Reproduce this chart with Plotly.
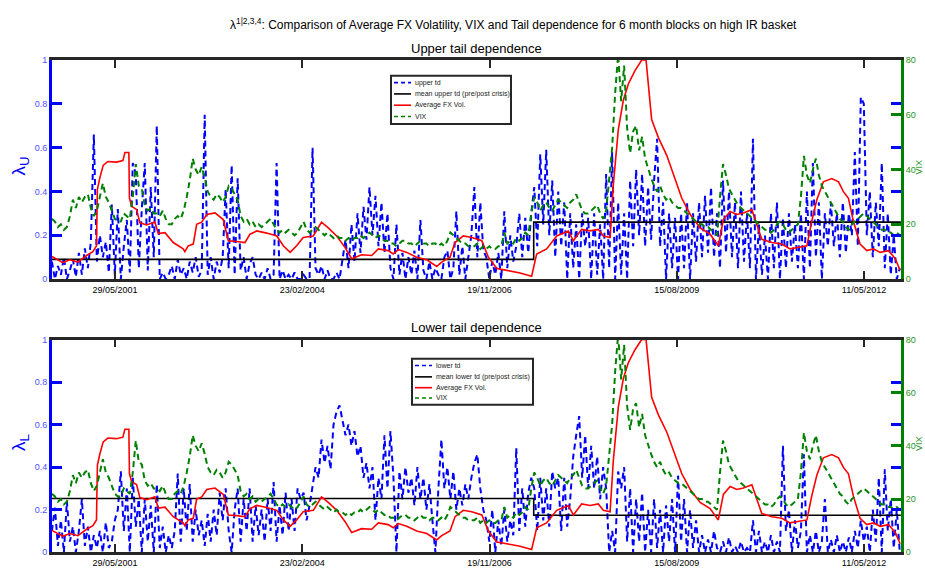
import pandas as pd
import plotly.graph_objects as go

W, H = 925, 571

# 16-day sampling grid shared by the VIX and tail-dependence series
dates = pd.date_range("2000-06-26", periods=284, freq="16D")

vix = [
    22, 21, 19, 20, 18, 19, 23, 29, 26, 30,
    28, 30, 31, 26, 23, 25, 30, 35, 30, 28,
    25, 22, 21, 21, 24, 23, 22, 30, 42, 34,
    33, 27, 25, 26, 24, 24, 23, 25, 22, 20,
    20, 22, 23, 22, 25, 30, 36, 44, 40, 38,
    41, 37, 32, 30, 29, 31, 30, 28, 30, 34,
    33, 31, 29, 23, 21, 22, 20, 21, 19, 20,
    19, 20, 21, 22, 20, 18, 17, 18, 17, 18,
    17, 16, 17, 19, 21, 18, 17, 18, 19, 18,
    17, 16, 17, 16, 15, 16, 15, 15, 14, 15,
    14, 15, 15, 16, 15, 16, 17, 16, 15, 16,
    15, 14, 14, 13, 13, 12, 13, 14, 14, 13,
    13, 12, 13, 14, 13, 13, 12, 13, 13, 12,
    13, 12, 14, 17, 16, 15, 14, 13, 13, 12,
    12, 12, 13, 11, 12, 11, 12, 11, 11, 12,
    12, 17, 13, 14, 13, 15, 14, 15, 17, 16,
    24, 30, 28, 25, 27, 28, 26, 25, 27, 29,
    28, 27, 26, 28, 29, 31, 28, 25, 24, 24,
    25, 26, 27, 24, 22, 25, 36, 48, 68, 82,
    65, 78, 55, 46, 54, 56, 47, 52, 44, 40,
    37, 34, 32, 34, 31, 29, 30, 28, 27, 26,
    26, 25, 24, 23, 22, 21, 20, 20, 19, 19,
    18, 17, 16, 30, 42, 38, 33, 31, 29, 27,
    26, 25, 24, 23, 22, 21, 20, 19, 18, 18,
    17, 18, 20, 21, 20, 18, 17, 18, 19, 20,
    30, 45, 38, 35, 40, 44, 38, 34, 32, 30,
    28, 26, 24, 22, 21, 19, 18, 20, 21, 22,
    23, 24, 23, 22, 21, 20, 19, 18, 18, 17,
    17, 16, 17, 16,
]

upper_td = [
    0.08, 0.00, 0.06, 0.02, 0.10, 0.00, 0.04, 0.09, 0.01, 0.12,
    0.02, 0.14, 0.05, 0.17, 0.66, 0.08, 0.20, 0.10, 0.17, 0.03,
    0.34, 0.02, 0.32, 0.00, 0.15, 0.27, 0.03, 0.53, 0.48, 0.05,
    0.32, 0.53, 0.04, 0.42, 0.10, 0.70, 0.00, 0.03, 0.00, 0.02,
    0.06, 0.00, 0.09, 0.02, 0.05, 0.00, 0.08, 0.03, 0.10, 0.01,
    0.04, 0.75, 0.02, 0.10, 0.00, 0.08, 0.03, 0.10, 0.41, 0.05,
    0.52, 0.02, 0.46, 0.04, 0.10, 0.00, 0.07, 0.10, 0.02, 0.00,
    0.03, 0.00, 0.05, 0.00, 0.02, 0.53, 0.00, 0.04, 0.00, 0.02,
    0.00, 0.03, 0.00, 0.00, 0.02, 0.00, 0.00, 0.60, 0.05, 0.02,
    0.06, 0.00, 0.04, 0.00, 0.00, 0.03, 0.00, 0.10, 0.18, 0.05,
    0.25, 0.08, 0.30, 0.12, 0.33, 0.18, 0.42, 0.20, 0.38, 0.15,
    0.35, 0.12, 0.30, 0.05, 0.00, 0.25, 0.02, 0.12, 0.00, 0.10,
    0.02, 0.13, 0.00, 0.27, 0.04, 0.00, 0.08, 0.00, 0.05, 0.02,
    0.00, 0.10, 0.13, 0.00, 0.05, 0.31, 0.02, 0.15, 0.00, 0.10,
    0.20, 0.42, 0.10, 0.35, 0.13, 0.10, 0.00, 0.08, 0.02, 0.12,
    0.00, 0.31, 0.05, 0.20, 0.08, 0.15, 0.30, 0.10, 0.28, 0.12,
    0.30, 0.42, 0.15, 0.57, 0.25, 0.59, 0.20, 0.45, 0.10, 0.40,
    0.15, 0.35, 0.00, 0.30, 0.05, 0.25, 0.00, 0.30, 0.15, 0.28,
    0.00, 0.30, 0.02, 0.25, 0.00, 0.48, 0.05, 0.58, 0.00, 0.35,
    0.02, 0.30, 0.00, 0.45, 0.15, 0.50, 0.20, 0.48, 0.15, 0.42,
    0.18, 0.45, 0.64, 0.15, 0.35, 0.00, 0.30, 0.05, 0.28, 0.00,
    0.30, 0.05, 0.35, 0.00, 0.30, 0.08, 0.35, 0.10, 0.38, 0.12,
    0.42, 0.10, 0.30, 0.05, 0.45, 0.12, 0.40, 0.10, 0.35, 0.05,
    0.40, 0.08, 0.30, 0.05, 0.64, 0.00, 0.25, 0.02, 0.20, 0.00,
    0.30, 0.05, 0.35, 0.00, 0.28, 0.05, 0.30, 0.08, 0.25, 0.05,
    0.30, 0.00, 0.40, 0.05, 0.53, 0.10, 0.35, 0.00, 0.30, 0.15,
    0.35, 0.15, 0.30, 0.10, 0.35, 0.12, 0.30, 0.20, 0.58, 0.15,
    0.83, 0.80, 0.20, 0.40, 0.10, 0.35, 0.15, 0.53, 0.05, 0.30,
    0.02, 0.20, 0.00, 0.05,
]

lower_td = [
    0.10, 0.21, 0.03, 0.15, 0.00, 0.24, 0.05, 0.12, 0.00, 0.10,
    0.25, 0.03, 0.12, 0.00, 0.08, 0.02, 0.10, 0.00, 0.14, 0.02,
    0.05, 0.15, 0.20, 0.38, 0.10, 0.30, 0.00, 0.35, 0.12, 0.25,
    0.00, 0.25, 0.05, 0.22, 0.00, 0.32, 0.02, 0.12, 0.00, 0.08,
    0.02, 0.10, 0.37, 0.05, 0.30, 0.10, 0.32, 0.05, 0.20, 0.08,
    0.15, 0.03, 0.18, 0.05, 0.20, 0.08, 0.28, 0.15, 0.30, 0.10,
    0.00, 0.20, 0.30, 0.05, 0.25, 0.10, 0.30, 0.05, 0.22, 0.08,
    0.20, 0.05, 0.25, 0.10, 0.33, 0.05, 0.22, 0.08, 0.28, 0.10,
    0.25, 0.10, 0.30, 0.25, 0.28, 0.15, 0.22, 0.30, 0.40, 0.35,
    0.53, 0.42, 0.50, 0.39, 0.60, 0.66, 0.69, 0.62, 0.55, 0.60,
    0.50, 0.57, 0.45, 0.50, 0.35, 0.42, 0.30, 0.40, 0.15, 0.35,
    0.25, 0.55, 0.30, 0.57, 0.35, 0.00, 0.38, 0.25, 0.40, 0.28,
    0.35, 0.22, 0.40, 0.25, 0.35, 0.20, 0.32, 0.15, 0.00, 0.30,
    0.53, 0.30, 0.40, 0.25, 0.38, 0.20, 0.30, 0.22, 0.32, 0.25,
    0.35, 0.42, 0.46, 0.30, 0.20, 0.15, 0.05, 0.20, 0.00, 0.15,
    0.03, 0.20, 0.05, 0.15, 0.08, 0.49, 0.10, 0.30, 0.12, 0.28,
    0.35, 0.30, 0.10, 0.35, 0.15, 0.30, 0.12, 0.38, 0.30, 0.35,
    0.10, 0.35, 0.12, 0.25, 0.45, 0.55, 0.64, 0.35, 0.55, 0.30,
    0.50, 0.30, 0.45, 0.25, 0.40, 0.30, 0.00, 0.10, 0.00, 0.38,
    0.30, 0.40, 0.05, 0.30, 0.00, 0.25, 0.05, 0.28, 0.00, 0.20,
    0.00, 0.25, 0.02, 0.20, 0.00, 0.22, 0.05, 0.25, 0.00, 0.36,
    0.05, 0.25, 0.00, 0.20, 0.02, 0.15, 0.00, 0.08, 0.00, 0.06,
    0.00, 0.10, 0.02, 0.00, 0.05, 0.00, 0.07, 0.00, 0.03, 0.00,
    0.05, 0.00, 0.02, 0.00, 0.15, 0.00, 0.10, 0.00, 0.05, 0.00,
    0.08, 0.00, 0.05, 0.00, 0.50, 0.10, 0.20, 0.00, 0.15, 0.02,
    0.10, 0.46, 0.00, 0.08, 0.00, 0.10, 0.00, 0.05, 0.25, 0.00,
    0.06, 0.00, 0.08, 0.00, 0.05, 0.00, 0.07, 0.00, 0.10, 0.02,
    0.15, 0.05, 0.12, 0.00, 0.20, 0.05, 0.35, 0.00, 0.39, 0.10,
    0.25, 0.02, 0.20, 0.00,
]

# Average FX volatility (scaled to the tail-dependence axis)
fx_dates = [
    "2000-06-26", "2000-08-23", "2000-09-30", "2000-11-12", "2000-12-28",
    "2001-01-31", "2001-02-19", "2001-02-24", "2001-03-09", "2001-03-27",
    "2001-04-21", "2001-06-06", "2001-07-10", "2001-07-21", "2001-08-11",
    "2001-08-14", "2001-08-26", "2001-09-21", "2001-10-09", "2001-11-14",
    "2001-12-28", "2002-01-15", "2002-02-20", "2002-04-05", "2002-05-28",
    "2002-06-06", "2002-06-24", "2002-07-21", "2002-08-08", "2002-09-04",
    "2002-10-01", "2002-11-14", "2002-12-28", "2003-01-24", "2003-03-10",
    "2003-04-23", "2003-05-20", "2003-06-25", "2003-08-17", "2003-10-10",
    "2003-11-14", "2003-12-20", "2004-01-24", "2004-02-28", "2004-04-22",
    "2004-06-05", "2004-07-11", "2004-08-25", "2004-10-08", "2004-11-13",
    "2005-01-05", "2005-02-28", "2005-04-04", "2005-05-27", "2005-06-23",
    "2005-07-20", "2005-09-03", "2005-10-26", "2005-12-19", "2006-02-10",
    "2006-03-09", "2006-04-22", "2006-05-19", "2006-07-02", "2006-08-16",
    "2006-09-21", "2006-10-09", "2006-11-13", "2006-12-28", "2007-02-19",
    "2007-05-01", "2007-07-02", "2007-07-29", "2007-09-20", "2007-11-13",
    "2008-01-14", "2008-02-10", "2008-03-25", "2008-05-09", "2008-06-22",
    "2008-07-19", "2008-08-24", "2008-09-10", "2008-10-07", "2008-11-03",
    "2008-11-30", "2009-01-04", "2009-02-09", "2009-03-04", "2009-04-03",
    "2009-05-09", "2009-06-23", "2009-08-06", "2009-09-11", "2009-10-26",
    "2009-12-18", "2010-02-09", "2010-03-25", "2010-04-21", "2010-05-27",
    "2010-07-02", "2010-08-06", "2010-09-20", "2010-10-16", "2010-11-12",
    "2011-01-05", "2011-02-27", "2011-04-12", "2011-06-05", "2011-07-11",
    "2011-08-06", "2011-09-02", "2011-10-07", "2011-11-21", "2011-12-27",
    "2012-01-22", "2012-02-18", "2012-03-15", "2012-04-20", "2012-05-26",
    "2012-06-30", "2012-08-05", "2012-09-19", "2012-10-25", "2012-11-20",
]
fx_vol = [
    0.103, 0.075, 0.088, 0.078, 0.108,
    0.125, 0.152, 0.410, 0.462, 0.519,
    0.537, 0.534, 0.541, 0.578, 0.578,
    0.370, 0.332, 0.318, 0.257, 0.247,
    0.261, 0.208, 0.212, 0.167, 0.138,
    0.125, 0.152, 0.160, 0.250, 0.260,
    0.295, 0.302, 0.272, 0.175, 0.172,
    0.167, 0.205, 0.220, 0.210, 0.197,
    0.152, 0.122, 0.152, 0.190, 0.197,
    0.260, 0.234, 0.197, 0.145, 0.093,
    0.111, 0.108, 0.138, 0.130, 0.115,
    0.135, 0.122, 0.100, 0.088, 0.058,
    0.078, 0.100, 0.167, 0.197, 0.190,
    0.182, 0.175, 0.100, 0.048, 0.040,
    0.028, 0.013, 0.115, 0.138, 0.197,
    0.220, 0.175, 0.227, 0.220, 0.227,
    0.197, 0.190, 0.429, 0.683, 0.818,
    0.892, 0.952, 1.000, 1.000, 0.728,
    0.646, 0.564, 0.452, 0.369, 0.295,
    0.234, 0.205, 0.152, 0.272, 0.309,
    0.295, 0.302, 0.317, 0.250, 0.182,
    0.167, 0.160, 0.138, 0.145, 0.152,
    0.265, 0.362, 0.444, 0.459, 0.444,
    0.399, 0.369, 0.265, 0.160, 0.130,
    0.138, 0.122, 0.130, 0.093, 0.040,
]

# Mean tail dependence before / after the crisis split
crisis_split = "2007-07-13"
sample_start, sample_end = "2000-06-26", "2012-11-24"
upper_mean = (0.09, 0.26)
lower_mean = (0.253, 0.174)

tick_dates = ["2001-05-29", "2004-02-23", "2006-11-19", "2009-08-15", "2012-05-11"]
td_ticks = [0, 0.2, 0.4, 0.6, 0.8, 1]
vix_ticks = [0, 20, 40, 60, 80]

BLUE, GREEN, RED = "rgb(0,0,255)", "rgb(0,128,0)", "rgb(255,0,0)"
AXIS_BLACK = "#262626"
FONT = "Liberation Sans, Arial, sans-serif"


def px(x):
    return x / W


def py(y):
    return 1 - y / H


def label(text, x, y, size, color="black", angle=0, xanchor="center"):
    return dict(text=text, x=px(x), y=py(y), xref="paper", yref="paper",
                xanchor=xanchor, yanchor="middle", showarrow=False, textangle=angle,
                font=dict(size=size, family=FONT, color=color))


X_DOMAIN = [px(52), px(901)]
panels = [
    dict(top=56, bottom=279, td=upper_td, mean=upper_mean, sub="U",
         name="upper", title="Upper tail dependence", title_y=44,
         legend=dict(x0=391, x1=511, y0=72, y1=121, rows=[79, 90.5, 102, 113.5])),
    dict(top=340.5, bottom=557, td=lower_td, mean=lower_mean, sub="L",
         name="lower", title="Lower tail dependence", title_y=328,
         legend=dict(x0=412, x1=533, y0=360, y1=407, rows=[367, 378.5, 389.5, 400])),
]

fig = go.Figure()
layout = dict(
    width=W, height=H, autosize=False,
    margin=dict(l=0, r=0, t=0, b=0),
    paper_bgcolor="white", plot_bgcolor="white",
    showlegend=False,
    font=dict(family=FONT, color="black"),
)
shapes, annotations = [], []

for i, p in enumerate(panels):
    xa = "x" if i == 0 else "x2"
    ya_left = "y" if i == 0 else "y3"
    ya_right = "y2" if i == 0 else "y4"
    xkey = "xaxis" if i == 0 else "xaxis2"
    ylkey = "yaxis" if i == 0 else "yaxis3"
    yrkey = "yaxis2" if i == 0 else "yaxis4"
    ydom = [py(p["bottom"]), py(p["top"])]

    fig.add_trace(go.Scatter(
        x=dates, y=p["td"], xaxis=xa, yaxis=ya_left, mode="lines",
        line=dict(color=BLUE, width=2, dash="6px,4px"),
        name=p["name"] + " td"))
    fig.add_trace(go.Scatter(
        x=[sample_start, crisis_split, crisis_split, sample_end],
        y=[p["mean"][0], p["mean"][0], p["mean"][1], p["mean"][1]],
        xaxis=xa, yaxis=ya_left, mode="lines",
        line=dict(color="black", width=1.6),
        name="mean " + p["name"] + " td (pre/post crisis)"))
    fig.add_trace(go.Scatter(
        x=fx_dates, y=fx_vol, xaxis=xa, yaxis=ya_left, mode="lines",
        line=dict(color=RED, width=1.6), name="Average FX Vol."))
    fig.add_trace(go.Scatter(
        x=dates, y=vix, xaxis=xa, yaxis=ya_right, mode="lines",
        line=dict(color=GREEN, width=2, dash="6px,4px"), name="VIX"))

    layout[xkey] = dict(
        domain=X_DOMAIN, anchor=ya_left, type="date",
        range=["2000-06-26 12:00", "2012-11-24 14:00"],
        tickvals=tick_dates, tickformat="%d/%m/%Y",
        ticks="inside", ticklen=8, tickwidth=2, tickcolor=AXIS_BLACK,
        showline=True, linecolor=AXIS_BLACK, linewidth=2.5, mirror="ticks",
        showgrid=False, zeroline=False,
        tickfont=dict(size=9, color="black", family=FONT))
    layout[ylkey] = dict(
        domain=ydom, anchor=xa, range=[0, 1],
        tickvals=td_ticks, ticktext=[f"{v:g}" for v in td_ticks],
        ticks="inside", ticklen=10, tickwidth=3, tickcolor=BLUE,
        showline=True, linecolor=BLUE, linewidth=3, mirror="ticks",
        showgrid=False, zeroline=False,
        tickfont=dict(size=9, color="rgb(80,80,255)", family=FONT))
    layout[yrkey] = dict(
        overlaying=ya_left, side="right", anchor=xa, range=[0, 80],
        tickvals=vix_ticks, ticks="inside", ticklen=10, tickwidth=3,
        tickcolor=GREEN, showline=True, linecolor=GREEN, linewidth=3,
        showgrid=False, zeroline=False,
        tickfont=dict(size=9, color="rgb(40,150,40)", family=FONT))

    mid = (p["top"] + p["bottom"]) / 2
    annotations += [
        label(p["title"], 477, p["title_y"], 13),
        label("λ<sub>" + p["sub"] + "</sub>", 20, mid - 3, 19, BLUE, -90),
        label("VIX", 919, mid - 2, 9, "rgb(40,150,40)", -90),
    ]

    # hand-drawn legend box
    lg = p["legend"]
    shapes.append(dict(type="rect", xref="paper", yref="paper",
                       x0=px(lg["x0"]), x1=px(lg["x1"]), y0=py(lg["y1"]), y1=py(lg["y0"]),
                       line=dict(color=AXIS_BLACK, width=2), fillcolor="white", layer="above"))
    entries = [
        (p["name"] + " td", BLUE, "4px,3px"),
        ("mean " + p["name"] + " td (pre/post crisis)", "black", "solid"),
        ("Average FX Vol.", RED, "solid"),
        ("VIX", GREEN, "4px,3px"),
    ]
    for (text, color, dash), ry in zip(entries, lg["rows"]):
        shapes.append(dict(type="line", xref="paper", yref="paper",
                           x0=px(lg["x0"] + 3), x1=px(lg["x0"] + 20), y0=py(ry), y1=py(ry),
                           line=dict(color=color, width=1.6, dash=dash), layer="above"))
        annotations.append(label(text, lg["x0"] + 22, ry, 7, "#222222", xanchor="left"))

annotations.append(label(
    "λ<sup>1|2,3,4</sup>: Comparison of Average FX Volatility, VIX and Tail dependence "
    "for 6 month blocks on high IR basket", 513, 19, 12))

layout["shapes"] = shapes
layout["annotations"] = annotations
fig.update_layout(**layout)
fig.write_html("out.html")
